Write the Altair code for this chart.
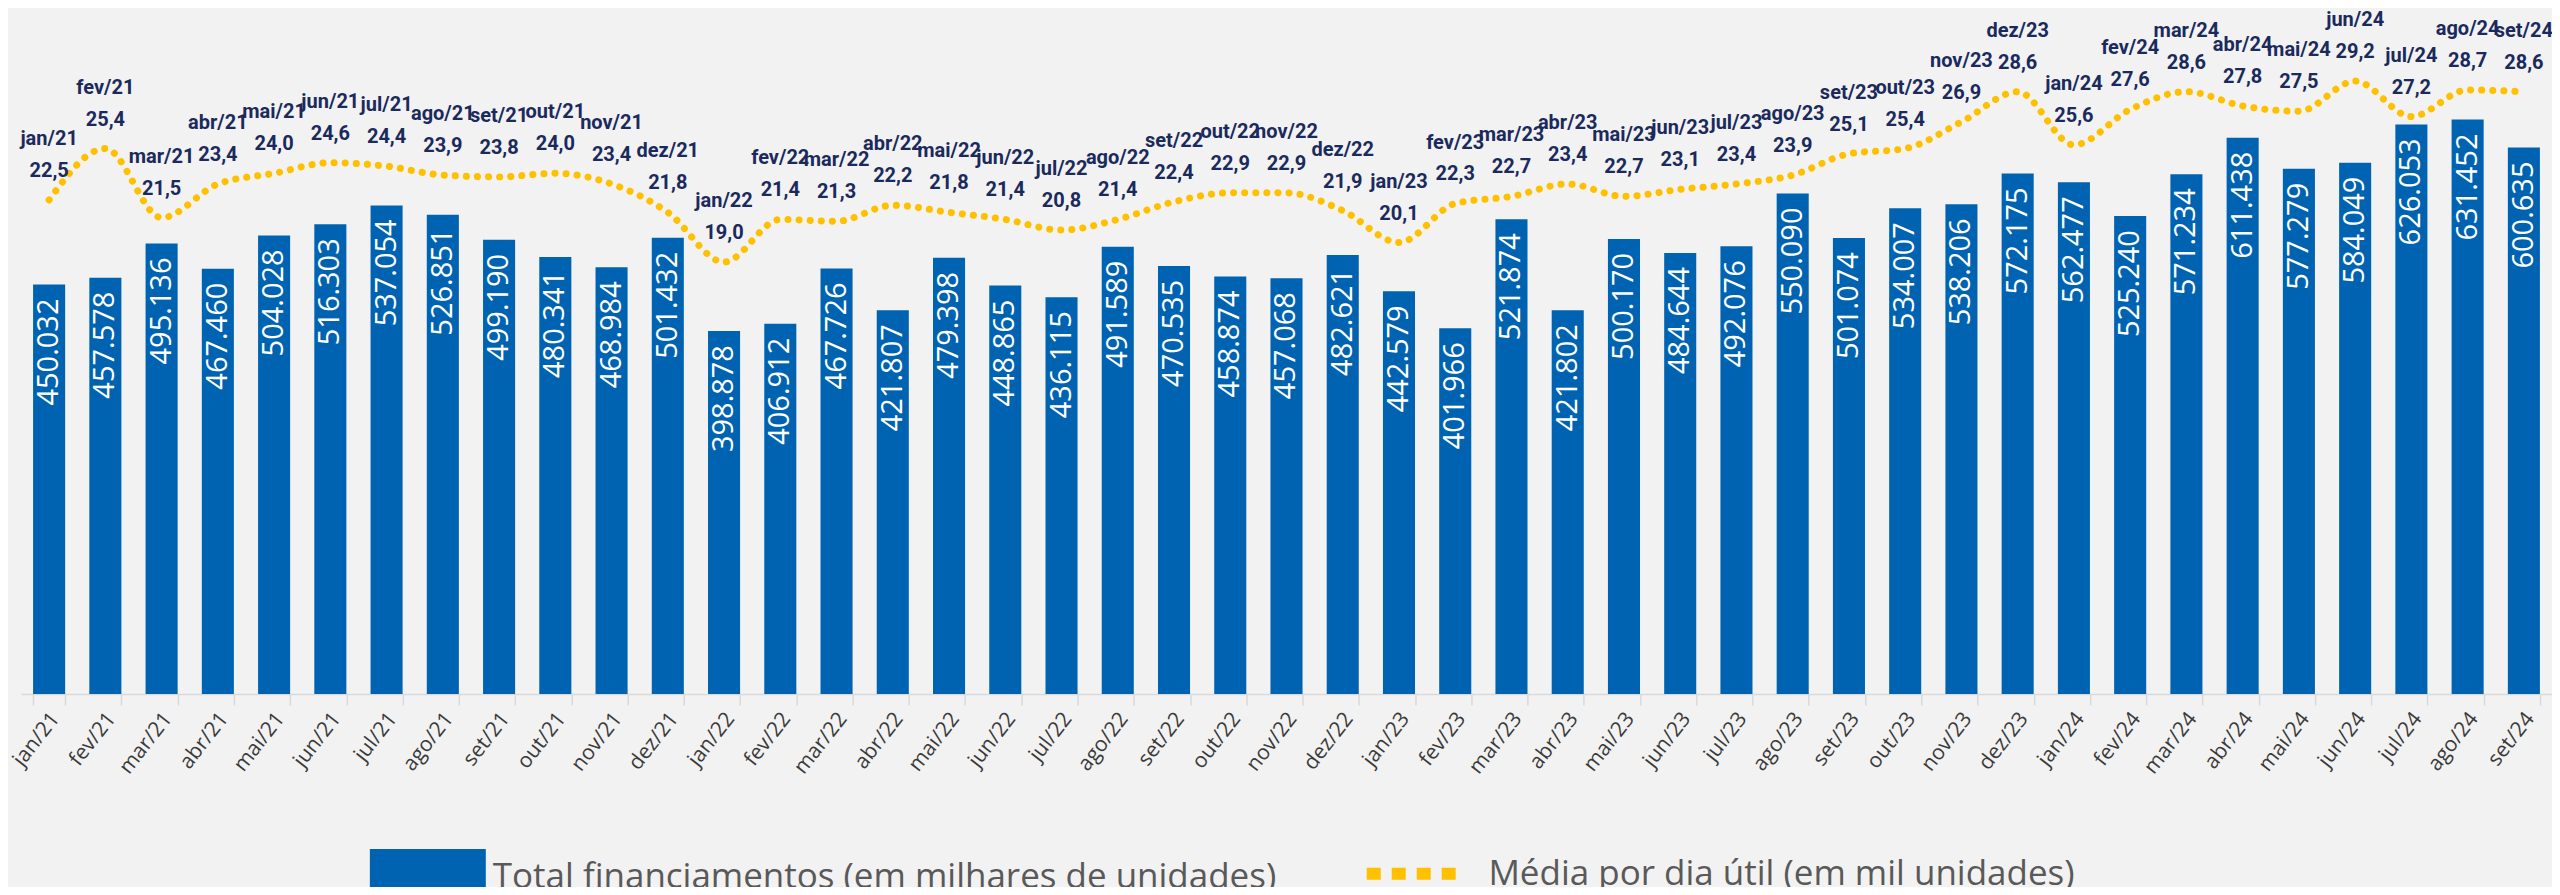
import altair as alt
import pandas as pd

months = [
    "jan/21", "fev/21", "mar/21", "abr/21", "mai/21", "jun/21", "jul/21", "ago/21", "set/21", "out/21", "nov/21", "dez/21",
    "jan/22", "fev/22", "mar/22", "abr/22", "mai/22", "jun/22", "jul/22", "ago/22", "set/22", "out/22", "nov/22", "dez/22",
    "jan/23", "fev/23", "mar/23", "abr/23", "mai/23", "jun/23", "jul/23", "ago/23", "set/23", "out/23", "nov/23", "dez/23",
    "jan/24", "fev/24", "mar/24", "abr/24", "mai/24", "jun/24", "jul/24", "ago/24", "set/24",
]

total_financiamentos = [
    450032, 457578, 495136, 467460, 504028, 516303, 537054, 526851, 499190, 480341, 468984, 501432,
    398878, 406912, 467726, 421807, 479398, 448865, 436115, 491589, 470535, 458874, 457068, 482621,
    442579, 401966, 521874, 421802, 500170, 484644, 492076, 550090, 501074, 534007, 538206, 572175,
    562477, 525240, 571234, 611438, 577279, 584049, 626053, 631452, 600635,
]

media_dia_util = [
    22.5, 25.4, 21.5, 23.4, 24.0, 24.6, 24.4, 23.9, 23.8, 24.0, 23.4, 21.8,
    19.0, 21.4, 21.3, 22.2, 21.8, 21.4, 20.8, 21.4, 22.4, 22.9, 22.9, 21.9,
    20.1, 22.3, 22.7, 23.4, 22.7, 23.1, 23.4, 23.9, 25.1, 25.4, 26.9, 28.6,
    25.6, 27.6, 28.6, 27.8, 27.5, 29.2, 27.2, 28.7, 28.6,
]

serie_barras = "Total financiamentos (em milhares de unidades)"
serie_linha = "Média por dia útil (em mil unidades)"

BLUE = "#0063B1"
GOLD = "#FFC000"
NAVY = "#1B2A5C"

df = pd.DataFrame({
    "mes": months,
    "total": total_financiamentos,
    "media": media_dia_util,
})
df["total_lbl"] = [f"{v:,}".replace(",", ".") for v in total_financiamentos]
df["media_lbl"] = [f"{v:.1f}".replace(".", ",") for v in media_dia_util]
df["sb"] = serie_barras
df["sl"] = serie_linha

x_enc = alt.X(
    "mes:N",
    sort=months,
    title=None,
    scale=alt.Scale(paddingInner=0.43, paddingOuter=0.215),
    axis=alt.Axis(
        labelAngle=308,
        labelFont="Open Sans",
        labelFontSize=21,
        labelFontWeight=400,
        labelColor="#3A3A3A",
        labelPadding=10,
        labelOffset=6,
        tickBand="extent",
        tickSize=11,
        tickColor="#D9D9D9",
        domainColor="#D9D9D9",
        domainWidth=1.5,
        tickWidth=1.5,
        grid=False,
    ),
)

y_bar = alt.Y("total:Q", axis=None, scale=alt.Scale(domain=[0, 700000], nice=False))
y_line = alt.Y("media:Q", axis=None, scale=alt.Scale(domain=[-5.35, 30.55], nice=False, zero=False))

base = alt.Chart(df)

bars = base.mark_bar().encode(
    x=x_enc,
    y=y_bar,
    fill=alt.Fill(
        "sb:N",
        scale=alt.Scale(range=[BLUE]),
        legend=alt.Legend(
            title=None,
            orient="none",
            legendX=349,
            legendY=762,
            symbolType="M-1,-0.48H1V0.48H-1Z",
            symbolSize=13456,
            symbolStrokeWidth=0,
            labelFont="Open Sans",
            labelFontSize=35,
            labelColor="#595959",
            labelLimit=0,
            labelOffset=7,
        ),
    ),
)

bar_text = base.mark_text(
    angle=270,
    align="right",
    baseline="middle",
    dx=-14,
    color="white",
    font="Open Sans",
    fontSize=29,
).encode(x=alt.X("mes:N", sort=months), y=y_bar, text="total_lbl:N")

line = base.mark_line(
    interpolate="monotone",
    strokeWidth=7,
    strokeDash=[0.1, 11],
    strokeCap="round",
).encode(
    x=alt.X("mes:N", sort=months),
    y=y_line,
    stroke=alt.Stroke(
        "sl:N",
        scale=alt.Scale(range=[GOLD]),
        legend=alt.Legend(
            title=None,
            orient="none",
            legendX=1340,
            legendY=762,
            symbolType="stroke",
            symbolSize=9500,
            symbolStrokeWidth=12,
            symbolDash=[14, 11],
            labelFont="Open Sans",
            labelFontSize=35,
            labelColor="#595959",
            labelLimit=0,
            labelOffset=18,
        ),
    ),
)

month_text = base.mark_text(
    dy=-61, color=NAVY, font="Roboto", fontSize=20, fontWeight="bold", baseline="middle"
).encode(x=alt.X("mes:N", sort=months), y=y_line, text="mes:N")

value_text = base.mark_text(
    dy=-29, color=NAVY, font="Roboto", fontSize=20, fontWeight="bold", baseline="middle"
).encode(x=alt.X("mes:N", sort=months), y=y_line, text="media_lbl:N")

chart = (
    alt.layer(bars, bar_text, line, month_text, value_text)
    .resolve_scale(y="independent", fill="independent", stroke="independent")
    .properties(
        width=2532,
        height=637,
        autosize=alt.AutoSizeParams(type="none"),
        padding={"left": 13, "top": 49, "right": 0, "bottom": 193},
        background="#F2F2F2",
    )
    .configure_view(stroke=None)
)

chart.save("out.html", embed_options={"renderer": "svg", "actions": False})
